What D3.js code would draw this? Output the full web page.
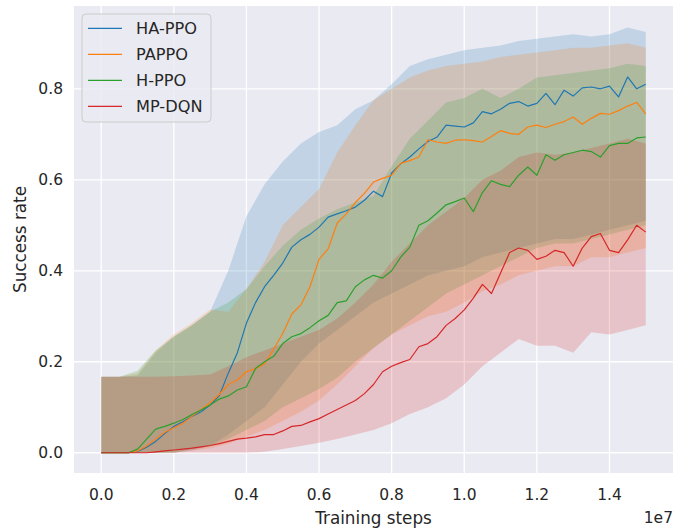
<!DOCTYPE html>
<html>
<head>
<meta charset="utf-8">
<script src="https://cdn.jsdelivr.net/npm/d3@7"></script>
<style>
  body { margin: 0; background: #fff; }
  svg { display: block; font-family: "DejaVu Sans", sans-serif; }
</style>
</head>
<body>
<div id="chart"></div>
<script>
// training steps in units of 1e7
const fineSteps = [0,0.025,0.05,0.075,0.1,0.125,0.15,0.175,0.2,0.225,0.25,0.275,0.3,0.325,0.35,0.375,0.4,0.425,0.45,0.475,0.5,0.525,0.55,0.575,0.6,0.625,0.65,0.675,0.7,0.725,0.75,0.775,0.8,0.825,0.85,0.875,0.9,0.925,0.95,0.975,1.0,1.025,1.05,1.075,1.1,1.125,1.15,1.175,1.2,1.225,1.25,1.275,1.3,1.325,1.35,1.375,1.4,1.425,1.45,1.475,1.5];
const bandSteps = [0,0.05,0.1,0.15,0.2,0.25,0.3,0.35,0.4,0.45,0.5,0.55,0.6,0.65,0.7,0.75,0.8,0.85,0.9,0.95,1.0,1.05,1.1,1.15,1.2,1.25,1.3,1.35,1.4,1.45,1.5];

const names = ["HA-PPO","PAPPO","H-PPO","MP-DQN"];
const colors = ["#1f77b4","#ff7f0e","#2ca02c","#d62728"];

// mean success rate
const haMean = [0,0,0,0,0.003,0.012,0.025,0.042,0.058,0.068,0.08,0.09,0.105,0.125,0.175,0.22,0.285,0.33,0.365,0.39,0.417,0.452,0.468,0.48,0.496,0.518,0.525,0.532,0.54,0.555,0.575,0.563,0.615,0.635,0.65,0.668,0.684,0.694,0.72,0.718,0.716,0.725,0.75,0.745,0.755,0.768,0.772,0.762,0.768,0.79,0.765,0.797,0.784,0.802,0.804,0.8,0.806,0.782,0.826,0.8,0.81];
const paMean = [0,0,0,0,0.004,0.015,0.03,0.045,0.055,0.065,0.08,0.095,0.11,0.128,0.15,0.16,0.178,0.185,0.195,0.228,0.262,0.305,0.325,0.365,0.425,0.448,0.505,0.525,0.55,0.57,0.595,0.603,0.61,0.636,0.642,0.65,0.688,0.683,0.68,0.687,0.688,0.686,0.683,0.695,0.708,0.702,0.7,0.716,0.72,0.715,0.722,0.728,0.738,0.722,0.735,0.746,0.744,0.752,0.762,0.77,0.745];
const hMean = [0,0,0,0,0.008,0.03,0.052,0.058,0.065,0.073,0.084,0.094,0.105,0.118,0.125,0.138,0.145,0.185,0.2,0.212,0.24,0.255,0.262,0.275,0.29,0.302,0.33,0.334,0.365,0.38,0.39,0.384,0.4,0.43,0.452,0.5,0.51,0.527,0.545,0.552,0.56,0.53,0.572,0.598,0.59,0.585,0.61,0.628,0.61,0.655,0.643,0.655,0.66,0.665,0.662,0.65,0.675,0.68,0.68,0.692,0.694];
const mpMean = [0,0,0,0,0,0,0.002,0.004,0.006,0.008,0.01,0.013,0.016,0.02,0.025,0.03,0.032,0.035,0.04,0.04,0.048,0.058,0.06,0.068,0.075,0.085,0.095,0.105,0.115,0.13,0.15,0.178,0.19,0.198,0.205,0.233,0.24,0.255,0.28,0.295,0.314,0.34,0.37,0.35,0.395,0.44,0.45,0.445,0.425,0.432,0.445,0.44,0.41,0.45,0.475,0.482,0.445,0.44,0.468,0.5,0.485];

// shaded band, lower and upper edge
const haLow = [0,0,0,0,0,0.005,0.015,0.04,0.07,0.1,0.15,0.2,0.24,0.27,0.3,0.33,0.35,0.37,0.39,0.4,0.41,0.43,0.44,0.45,0.46,0.47,0.47,0.48,0.49,0.5,0.51];
const haHigh = [0.167,0.167,0.17,0.22,0.255,0.28,0.31,0.4,0.52,0.59,0.64,0.68,0.705,0.72,0.755,0.775,0.81,0.85,0.865,0.875,0.885,0.89,0.895,0.905,0.91,0.915,0.92,0.915,0.92,0.935,0.925];
const paLow = [0,0,0,0,0,0.005,0.01,0.02,0.035,0.05,0.07,0.09,0.115,0.15,0.19,0.23,0.26,0.28,0.3,0.31,0.33,0.355,0.37,0.39,0.4,0.41,0.41,0.43,0.43,0.44,0.45];
const paHigh = [0.167,0.167,0.175,0.225,0.26,0.285,0.315,0.31,0.36,0.42,0.5,0.54,0.58,0.66,0.72,0.775,0.8,0.825,0.84,0.85,0.855,0.86,0.87,0.875,0.88,0.885,0.89,0.89,0.895,0.9,0.89];
const hLow = [0,0,0,0,0,0.008,0.015,0.03,0.05,0.07,0.1,0.12,0.14,0.165,0.2,0.23,0.26,0.29,0.32,0.35,0.37,0.39,0.41,0.43,0.45,0.46,0.46,0.47,0.48,0.49,0.5];
const hHigh = [0.167,0.167,0.18,0.225,0.255,0.28,0.31,0.33,0.36,0.41,0.455,0.49,0.515,0.535,0.55,0.565,0.63,0.69,0.73,0.77,0.78,0.8,0.78,0.8,0.825,0.83,0.835,0.84,0.845,0.855,0.85];
const mpLow = [0,0,0,0,0,0,0,0,0,0.002,0.008,0.015,0.022,0.03,0.04,0.05,0.065,0.085,0.1,0.12,0.15,0.19,0.22,0.25,0.235,0.235,0.22,0.265,0.26,0.27,0.28];
const mpHigh = [0.167,0.167,0.167,0.167,0.168,0.17,0.172,0.19,0.21,0.225,0.24,0.255,0.27,0.295,0.33,0.37,0.42,0.46,0.5,0.53,0.56,0.6,0.62,0.65,0.66,0.655,0.66,0.67,0.68,0.69,0.68];

const xTicks = [0,0.2,0.4,0.6,0.8,1.0,1.2,1.4];
const yTicks = [0,0.2,0.4,0.6,0.8];

const means = [haMean, paMean, hMean, mpMean];
const lows = [haLow, paLow, hLow, mpLow];
const highs = [haHigh, paHigh, hHigh, mpHigh];

const W = 689, H = 529;
const L = 74, R = 673, T = 6, B = 473;
const svg = d3.select("#chart").append("svg").attr("width", W).attr("height", H);

const x = d3.scaleLinear().domain([-0.075, 1.575]).range([L, R]);
const y = d3.scaleLinear().domain([-0.0445, 0.982]).range([B, T]);

svg.append("rect").attr("x", L).attr("y", T).attr("width", R - L).attr("height", B - T).attr("fill", "#eaeaf2");

// grid
svg.append("g").selectAll("line").data(xTicks).join("line")
  .attr("x1", d => x(d)).attr("x2", d => x(d)).attr("y1", T).attr("y2", B)
  .attr("stroke", "#fff").attr("stroke-width", 1.3);
svg.append("g").selectAll("line").data(yTicks).join("line")
  .attr("x1", L).attr("x2", R).attr("y1", d => y(d)).attr("y2", d => y(d))
  .attr("stroke", "#fff").attr("stroke-width", 1.3);

// bands (all under the lines)
const area = d3.area().x((d, i) => x(bandSteps[i])).y0(d => y(d[0])).y1(d => y(d[1]));
names.forEach((n, k) => {
  const pts = lows[k].map((lo, i) => [lo, highs[k][i]]);
  svg.append("path").attr("d", area(pts)).attr("fill", colors[k]).attr("fill-opacity", 0.2);
});

const line = d3.line().x((d, i) => x(fineSteps[i])).y(d => y(d));
names.forEach((n, k) => {
  svg.append("path").attr("d", line(means[k])).attr("fill", "none")
    .attr("stroke", colors[k]).attr("stroke-width", 1.2).attr("stroke-linejoin", "round");
});

// tick labels
const ink = "#262626";
svg.append("g").selectAll("text").data(xTicks).join("text")
  .attr("x", d => x(d)).attr("y", 499.5).attr("text-anchor", "middle")
  .attr("font-size", 15.5).attr("fill", ink).text(d3.format(".1f"));
svg.append("g").selectAll("text").data(yTicks).join("text")
  .attr("x", 63).attr("y", d => y(d)).attr("dy", "0.35em").attr("text-anchor", "end")
  .attr("font-size", 15.5).attr("fill", ink).text(d3.format(".1f"));

svg.append("text").attr("x", (L + R) / 2).attr("y", 524).attr("text-anchor", "middle")
  .attr("font-size", 16.8).attr("fill", ink).text("Training steps");
svg.append("text").attr("x", R).attr("y", 522.5).attr("text-anchor", "end")
  .attr("font-size", 15.5).attr("fill", ink).text("1e7");
svg.append("text").attr("transform", `translate(25.5,${(T + B) / 2}) rotate(-90)`)
  .attr("text-anchor", "middle").attr("font-size", 16.8).attr("fill", ink).text("Success rate");

// legend
const lg = svg.append("g");
lg.append("rect").attr("x", 82).attr("y", 14).attr("width", 129).attr("height", 108).attr("rx", 4)
  .attr("fill", "#eaeaf2").attr("fill-opacity", 0.8).attr("stroke", "#cccccc").attr("stroke-width", 1);
names.forEach((n, k) => {
  const yy = 28.3 + k * 26;
  lg.append("line").attr("x1", 88).attr("x2", 122).attr("y1", yy).attr("y2", yy)
    .attr("stroke", colors[k]).attr("stroke-width", 1.2);
  lg.append("text").attr("x", 136).attr("y", yy).attr("dy", "0.35em")
    .attr("font-size", 16.2).attr("fill", ink).text(n);
});
</script>
</body>
</html>
